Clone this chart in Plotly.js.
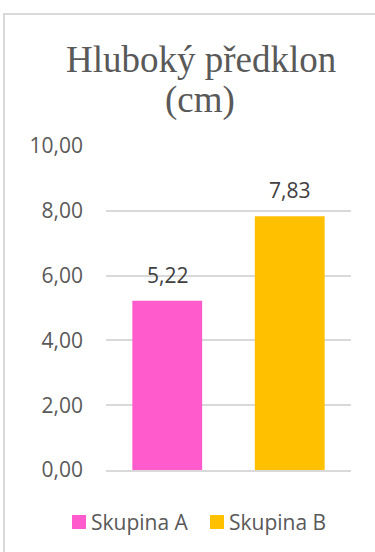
<!DOCTYPE html>
<html>
<head>
<meta charset="utf-8">
<script src="https://cdn.plot.ly/plotly-3.0.1.min.js"></script>
<style>
  html, body { margin: 0; padding: 0; background: #ffffff; overflow: hidden; }
  #wrap { position: relative; width: 375px; height: 552px; overflow: hidden; }
  #frame { position: absolute; left: 3px; top: 13px; width: 420px; height: 600px;
           border-left: 2px solid #d9d9d9; border-top: 2px solid #d9d9d9; box-sizing: border-box; }
  #chart { position: absolute; left: 0; top: 0; width: 375px; height: 552px; }
</style>
</head>
<body>
<div id="wrap">
  <div id="frame"></div>
  <div id="chart"></div>
</div>
<script>
const categories = ["Skupina A", "Skupina B"];
const values = [5.22, 7.83];
const labels = ["5,22", "7,83"];
const colors = ["#FF5BCD", "#FFC000"];
const titleLines = ["Hluboký předklon", "(cm)"];
const tickVals = [0, 2, 4, 6, 8, 10];

const traces = categories.map((c, i) => ({
  type: "bar",
  name: c,
  x: [c],
  y: [values[i]],
  marker: { color: colors[i], line: { width: 0 } },
  hoverinfo: "skip",
  showlegend: false
}));

// plot area geometry (pixels) used to place legend items in paper coords
const M = { l: 106, r: 24, t: 146, b: 82 };
const W = 375, H = 552;
const pw = W - M.l - M.r, ph = H - M.t - M.b;
const px2x = p => (p - M.l) / pw;
const py2y = p => (H - M.b - p) / ph;

const sansFont = "'Open Sans', 'Noto Sans', sans-serif";
const annotations = categories.map((c, i) => ({
  x: c, y: values[i], xref: "x", yref: "y",
  text: labels[i], showarrow: false,
  yanchor: "bottom", yshift: 10,
  font: { family: sansFont, size: 21, color: "#404040" }
}));
annotations.push({
  xref: "paper", yref: "paper", x: 0.388, y: 1.2685,
  xanchor: "center", yanchor: "middle", showarrow: false,
  text: titleLines[0],
  font: { family: "'Liberation Serif', 'Times New Roman', serif", size: 37, color: "#595959" }
});
annotations.push({
  xref: "paper", yref: "paper", x: 0.384, y: 1.142,
  xanchor: "center", yanchor: "middle", showarrow: false,
  text: titleLines[1],
  font: { family: "'Liberation Serif', 'Times New Roman', serif", size: 37, color: "#595959" }
});

// custom legend (square swatch + text) matching reference spacing
const legendStarts = [72, 210];
const legendCy = 522;
const shapes = [];
categories.forEach((c, i) => {
  const x0 = legendStarts[i];
  shapes.push({
    type: "rect", xref: "paper", yref: "paper",
    x0: px2x(x0), x1: px2x(x0 + 14),
    y0: py2y(legendCy + 7), y1: py2y(legendCy - 7),
    fillcolor: colors[i], line: { width: 0 }
  });
  annotations.push({
    xref: "paper", yref: "paper", x: px2x(x0 + 17), y: py2y(legendCy),
    xanchor: "left", yanchor: "middle", showarrow: false,
    text: c,
    font: { family: sansFont, size: 21, color: "#595959" }
  });
});

const layout = {
  width: W, height: H,
  margin: { l: M.l, r: M.r, t: M.t, b: M.b, pad: 0 },
  paper_bgcolor: "rgba(0,0,0,0)",
  plot_bgcolor: "rgba(0,0,0,0)",
  separators: ", ",
  barmode: "overlay",
  bargap: 0.43,
  showlegend: false,
  xaxis: {
    type: "category", showticklabels: false, ticks: "",
    showgrid: false, zeroline: false,
    showline: true, linecolor: "#d9d9d9", linewidth: 2,
    fixedrange: true
  },
  yaxis: {
    range: [0, 10], tickvals: tickVals, tickformat: ",.2f",
    showgrid: true, gridcolor: "#d9d9d9", gridwidth: 2,
    zeroline: false, showline: false, ticks: "",
    ticklabelstandoff: 22,
    tickfont: { family: sansFont, size: 21, color: "#595959" },
    fixedrange: true
  },
  shapes: shapes,
  annotations: annotations
};

Plotly.newPlot("chart", traces, layout, { displayModeBar: false, staticPlot: true });
</script>
</body>
</html>
